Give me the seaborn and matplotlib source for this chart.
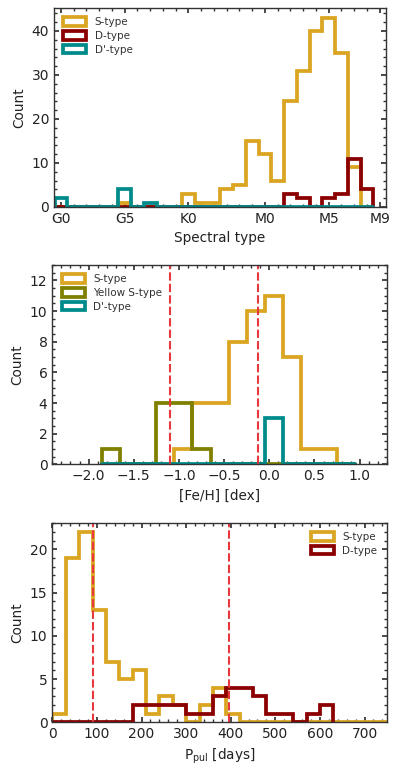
import numpy as np
import seaborn as sns
import matplotlib.pyplot as plt
import matplotlib.patches as mpatches
from matplotlib.ticker import AutoMinorLocator, MultipleLocator

# ---- panel 1: spectral type (G0 = 0, one bin per subclass) ----
spt_edges = np.arange(-0.5, 25.0, 1.0)
spt_S  = [0, 0, 0, 0, 0, 1, 0, 0, 0, 0, 3, 1, 1, 4, 5, 15, 12, 6, 24, 31, 40, 43, 35, 9, 0]
spt_D  = [0, 0, 0, 0, 0, 0, 0, 0, 0, 0, 0, 0, 0, 0, 0, 0, 0, 0, 3, 2, 0, 2, 3, 11, 4]
spt_Dp = [2, 0, 0, 0, 0, 4, 0, 1, 0, 0, 0, 0, 0, 0, 0, 0, 0, 0, 0, 0, 0, 0, 0, 0, 0]
spt_ticks = [0, 5, 10, 16, 21, 25]
spt_labels = ["G0", "G5", "K0", "M0", "M5", "M9"]

# ---- panel 2: metallicity ----
feh_edges = np.arange(-1.85, 1.0, 0.2)
feh_S  = [0, 0, 0, 0, 1, 4, 4, 8, 10, 11, 7, 1, 1, 0]
feh_Y  = [1, 0, 0, 4, 4, 1, 0, 0, 0, 0, 0, 0, 0, 0]
feh_Dp = [0, 0, 0, 0, 0, 0, 0, 0, 0, 3, 0, 0, 0, 0]
feh_cuts = [-1.1, -0.12]

# ---- panel 3: pulsation period ----
per_edges_S = np.arange(0, 751, 30)
per_edges_D = np.arange(0, 631, 30)
per_S = [1, 19, 22, 13, 7, 5, 6, 1, 3, 2, 0, 2, 4, 1, 0, 0, 0, 0, 0, 0, 0, 0, 0, 0, 0]
per_D = [0, 0, 0, 0, 0, 0, 2, 2, 2, 2, 1, 1, 3, 4, 4, 3, 1, 1, 0, 1, 2]
per_cuts = [92, 397]

c_S = "#DAA520"
c_D = "#8B0000"
c_Dp = "#008B8B"
c_Y = "#808000"
c_cut = "#e8383d"
LW = 2.7

sns.set_theme(style="ticks", rc={
    "xtick.direction": "in", "ytick.direction": "in",
    "xtick.top": True, "ytick.right": True,
    "xtick.major.size": 3.5, "ytick.major.size": 3.5,
    "xtick.minor.size": 2, "ytick.minor.size": 2,
    "xtick.minor.visible": True, "ytick.minor.visible": True,
    "axes.edgecolor": "#333333", "axes.linewidth": 1.0,
    "xtick.color": "#333333", "ytick.color": "#333333",
    "xtick.labelcolor": "#222222", "ytick.labelcolor": "#222222",
    "axes.labelcolor": "#222222",
    "xtick.labelsize": 10, "ytick.labelsize": 10, "axes.labelsize": 9.8,
})
plt.rcParams["font.family"] = ["DejaVu Sans"]


def step_hist(ax, edges, counts, color):
    centers = (edges[:-1] + edges[1:]) / 2
    values = np.repeat(centers, counts)
    # tiny empty bins at both ends so the outline closes down to zero
    e = np.concatenate([[edges[0] - 1e-6], edges, [edges[-1] + 1e-6]])
    sns.histplot(x=values, bins=e, element="step", fill=False,
                 color=color, linewidth=LW, solid_joinstyle="miter", ax=ax)


def legend(ax, items, loc):
    handles = [mpatches.Patch(facecolor="none", edgecolor=c, linewidth=LW, label=l)
               for l, c in items]
    ax.legend(handles=handles, loc=loc, frameon=False, fontsize=7.5,
              handlelength=2.2, handleheight=0.9, labelspacing=0.35,
              labelcolor="#333333")


fig = plt.figure(figsize=(4.0, 7.77), dpi=100)
ax1 = fig.add_axes([0.135, 0.7336, 0.83, 0.2561])
ax2 = fig.add_axes([0.131, 0.4024, 0.836, 0.2565])
ax3 = fig.add_axes([0.131, 0.0704, 0.836, 0.2570])

# panel 1
step_hist(ax1, spt_edges, spt_S, c_S)
step_hist(ax1, spt_edges, spt_D, c_D)
step_hist(ax1, spt_edges, spt_Dp, c_Dp)
ax1.set_xlim(-0.55, 25.5)
ax1.set_ylim(0, 45.2)
ax1.set_xticks(spt_ticks)
ax1.set_xticklabels(spt_labels)
ax1.xaxis.set_minor_locator(MultipleLocator(1))
ax1.yaxis.set_major_locator(MultipleLocator(10))
ax1.yaxis.set_minor_locator(AutoMinorLocator(5))
ax1.set_xlabel("Spectral type")
ax1.set_ylabel("Count")
legend(ax1, [("S-type", c_S), ("D-type", c_D), ("D'-type", c_Dp)], "upper left")

# panel 2
step_hist(ax2, feh_edges, feh_S, c_S)
step_hist(ax2, feh_edges, feh_Y, c_Y)
step_hist(ax2, feh_edges, feh_Dp, c_Dp)
for v in feh_cuts:
    ax2.axvline(v, color=c_cut, linestyle=(0, (4, 1.5)), linewidth=1.5)
ax2.set_xlim(-2.4, 1.3)
ax2.set_ylim(0, 13)
ax2.xaxis.set_major_locator(MultipleLocator(0.5))
ax2.xaxis.set_minor_locator(AutoMinorLocator(5))
ax2.yaxis.set_major_locator(MultipleLocator(2))
ax2.yaxis.set_minor_locator(AutoMinorLocator(4))
ax2.set_xlabel("[Fe/H] [dex]")
ax2.set_ylabel("Count")
legend(ax2, [("S-type", c_S), ("Yellow S-type", c_Y), ("D'-type", c_Dp)], "upper left")

# panel 3
step_hist(ax3, per_edges_S, per_S, c_S)
step_hist(ax3, per_edges_D, per_D, c_D)
for v in per_cuts:
    ax3.axvline(v, color=c_cut, linestyle=(0, (4, 1.5)), linewidth=1.5)
ax3.set_xlim(0, 750)
ax3.set_ylim(0, 23.1)
ax3.xaxis.set_major_locator(MultipleLocator(100))
ax3.xaxis.set_minor_locator(AutoMinorLocator(5))
ax3.yaxis.set_major_locator(MultipleLocator(5))
ax3.yaxis.set_minor_locator(AutoMinorLocator(5))
ax3.set_xlabel(r"P$_{\rm pul}$ [days]")
ax3.set_ylabel("Count")
legend(ax3, [("S-type", c_S), ("D-type", c_D)], "upper right")

fig.savefig("out.png", dpi=100)
